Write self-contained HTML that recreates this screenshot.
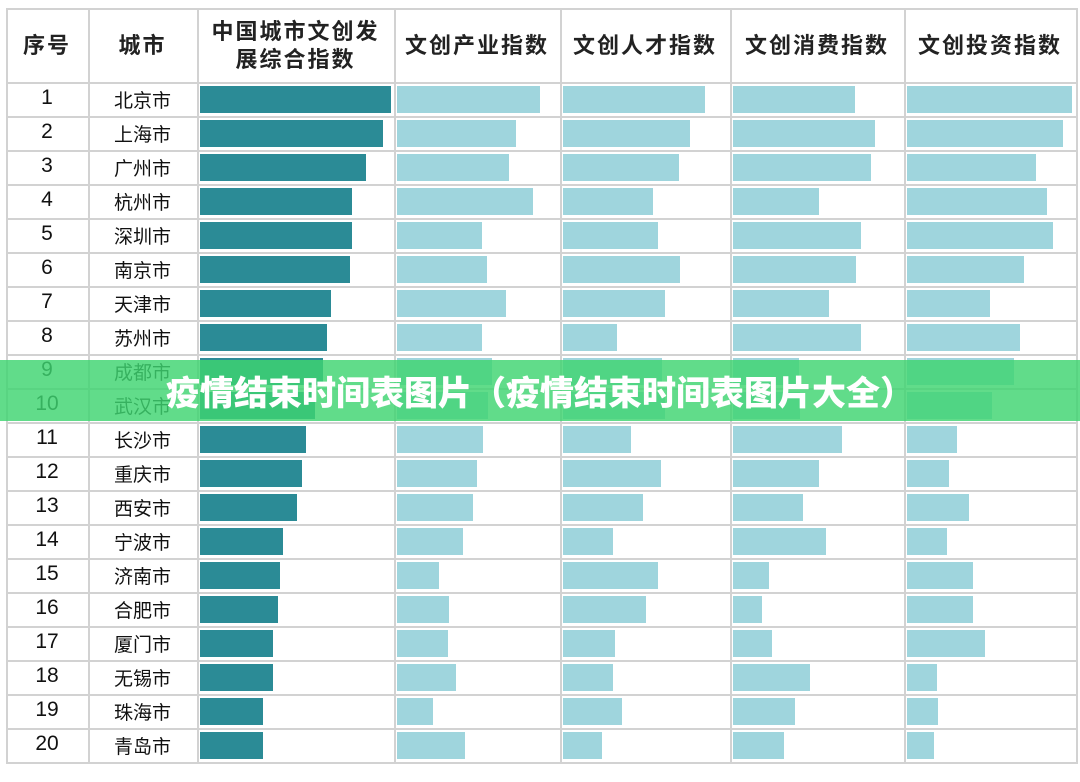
<!DOCTYPE html>
<html><head><meta charset="utf-8"><style>
body{margin:0;width:1080px;height:782px;background:#fff;position:relative;overflow:hidden;font-family:"Liberation Sans","Noto Sans CJK SC",sans-serif}
.l{position:absolute;background:#d2d2d2}
.b{position:absolute}
.t{position:absolute;text-align:center;color:#111}
.h{position:absolute;text-align:center;font-weight:bold;font-size:22px;color:#222;letter-spacing:2px;line-height:28px;display:flex;align-items:center;justify-content:center}
#ban{position:absolute;left:0;top:360px;width:1080px;height:61px;background:rgba(62,212,112,0.82);color:#fff;font-weight:900;font-size:34px;line-height:61px;text-align:center;font-family:"Noto Sans CJK SC",sans-serif}
</style></head><body>
<div id="root"></div>
<div id="ban">疫情结束时间表图片（疫情结束时间表图片大全）</div>
<script>
var r=document.getElementById('root'),h='';
var xs=[6,88,197,394,560,730,904,1076];
for(var i=0;i<xs.length;i++)h+='<div class="l" style="left:'+xs[i]+'px;top:8px;width:2px;height:756px"></div>';
h+='<div class="l" style="left:6px;top:8px;width:1072px;height:2px"></div>';
for(var j=0;j<=20;j++)h+='<div class="l" style="left:6px;top:'+(82+j*34)+'px;width:1072px;height:2px"></div>';
var hd=['序号','城市','中国城市文创发<br>展综合指数','文创产业指数','文创人才指数','文创消费指数','文创投资指数'];
for(var i=0;i<7;i++)h+='<div class="h" style="left:'+xs[i]+'px;top:10px;width:'+(xs[i+1]-xs[i])+'px;height:72px">'+hd[i]+'</div>';
var c=['北京市','上海市','广州市','杭州市','深圳市','南京市','天津市','苏州市','成都市','武汉市','长沙市','重庆市','西安市','宁波市','济南市','合肥市','厦门市','无锡市','珠海市','青岛市'];
var e=[[391,540,705,855,1072],[383,516,690,875,1063],[366,509,679,871,1036],[352,533,653,819,1047],[352,482,658,861,1053],[350,487,680,856,1024],[331,506,665,829,990],[327,482,617,861,1020],[323,492,662,799,1014],[315,488,665,800,992],[306,483,631,842,957],[302,477,661,819,949],[297,473,643,803,969],[283,463,613,826,947],[280,439,658,769,973],[278,449,646,762,973],[273,448,615,772,985],[273,456,613,810,937],[263,433,622,795,938],[263,465,602,784,934]];
var st=[200,397,563,733,907];
for(var j=0;j<20;j++){var y=82+j*34;
h+='<div class="t" style="left:6px;top:'+(y+2)+'px;width:82px;font-size:21px;line-height:28px">'+(j+1)+'</div>';
h+='<div class="t" style="left:88px;top:'+(y+6)+'px;width:109px;font-size:19px;line-height:28px">'+c[j]+'</div>';
for(var k=0;k<5;k++)h+='<div class="b" style="left:'+st[k]+'px;top:'+(y+4)+'px;width:'+(e[j][k]-st[k])+'px;height:27px;background:'+(k==0?'#2b8b96':'#9fd5dd')+'"></div>';}
r.innerHTML=h;
</script>
</body></html>
